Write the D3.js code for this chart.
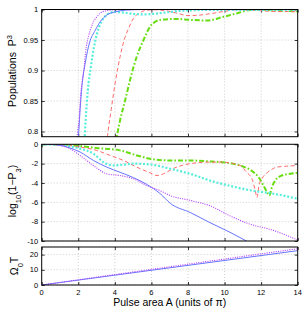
<!DOCTYPE html>
<html>
<head>
<meta charset="utf-8">
<script src="https://cdn.jsdelivr.net/npm/d3@7"></script>
<style>
  body { margin: 0; background: #fff; }
  svg { display: block; font-family: "Liberation Sans", Arial, sans-serif; }
</style>
</head>
<body>
<div id="container"></div>
<script>
// ---- data ----
// pulse area ticks
var xTicks = [0, 2, 4, 6, 8, 10, 12, 14];

// top panel: population P3
var topBlueA = [1.95, 2.01, 2.1, 2.2, 2.38, 2.61, 2.93, 3.2, 3.56, 4.0, 4.6, 5.5, 7, 9, 11, 14];
var topBlueP = [0.78, 0.793, 0.836, 0.874, 0.912, 0.945, 0.966, 0.980, 0.991, 0.996, 0.999, 1, 1, 1, 1, 1];
var topMagA = [1.92, 1.96, 2.05, 2.12, 2.21, 2.29, 2.43, 2.56, 2.69, 2.83, 3.02, 3.2, 3.47, 4, 5, 7, 10, 14];
var topMagP = [0.78, 0.798, 0.819, 0.855, 0.882, 0.898, 0.937, 0.956, 0.969, 0.980, 0.988, 0.994, 0.9975, 0.9995, 1, 1, 1, 1];
var topCyanA = [2.33, 2.40, 2.52, 2.69, 2.85, 3.02, 3.20, 3.4, 3.7, 4.0, 4.5, 5.0, 5.5, 6.0, 6.5, 7.0, 7.7, 8.5, 10, 12, 14];
var topCyanP = [0.78, 0.817, 0.867, 0.9065, 0.937, 0.960, 0.976, 0.986, 0.994, 0.996, 0.995, 0.993, 0.992, 0.9925, 0.994, 0.996, 0.998, 0.999, 0.9995, 0.9995, 0.9995];
var topRedA = [3.55, 3.6, 3.8, 4.02, 4.29, 4.51, 4.75, 5.02, 5.39, 5.75, 6.2, 6.8, 7.4, 8.0, 8.5, 9.2, 10, 10.6, 11.5, 12.5, 13.3, 14];
var topRedP = [0.78, 0.793, 0.836, 0.88, 0.923, 0.950, 0.969, 0.9856, 0.995, 0.999, 0.9995, 0.998, 0.994, 0.990, 0.9905, 0.993, 0.997, 0.9995, 0.999, 0.997, 0.9965, 0.9965];
var topGreenA = [4.05, 4.12, 4.29, 4.57, 4.88, 5.2, 5.57, 5.93, 6.48, 7.39, 8.12, 9.03, 9.94, 10.7, 11.4, 12, 13, 14];
var topGreenP = [0.78, 0.793, 0.819, 0.852, 0.890, 0.923, 0.950, 0.972, 0.983, 0.9845, 0.983, 0.982, 0.988, 0.994, 0.999, 0.9995, 0.998, 0.997];
var topTicks = [0.8, 0.85, 0.9, 0.95, 1];
var topTickLabels = ["0.8", "0.85", "0.9", "0.95", "1"];

// middle panel: log10(1 - P3)
var midBlueA = [0, 0.5, 1.0, 1.5, 2.1, 2.83, 3.56, 4.29, 5.02, 5.75, 6.48, 7.03, 8.12, 9.2, 10.3, 11.2, 11.5];
var midBlueL = [0, -0.01, -0.1, -0.35, -0.8, -1.67, -2.36, -2.9, -3.45, -4.15, -5.1, -6.1, -7.05, -8.1, -9.1, -10, -10.3];
var midMagA = [0, 0.5, 1.0, 1.5, 2.1, 2.83, 3.56, 4.29, 5.02, 5.75, 6.48, 7.03, 8.12, 9.2, 10.3, 11.4, 12.5, 14];
var midMagL = [0, -0.01, -0.12, -0.4, -1.15, -2.2, -3.05, -3.23, -3.57, -4.27, -4.8, -5.3, -5.8, -6.35, -7.4, -8.26, -8.8, -9.9];
var midCyanA = [0, 0.5, 1.0, 1.5, 2.1, 2.83, 3.38, 3.92, 4.47, 5.02, 5.75, 6.48, 7.03, 8.12, 9.2, 10.3, 11.4, 12.5, 14];
var midCyanL = [0, -0.01, -0.05, -0.2, -0.45, -0.97, -1.84, -2.19, -2.1, -2.0, -2.05, -2.26, -2.53, -3.05, -3.75, -4.3, -4.75, -5.05, -5.63];
var midRedA = [0, 1, 2.1, 3.0, 3.74, 4.47, 5.2, 5.93, 6.3, 6.66, 7.2, 8.12, 9.2, 9.76, 10.85, 11.2, 11.5, 11.68, 11.77, 11.9, 12.04, 12.5, 12.86, 13.4, 14];
var midRedL = [0, -0.05, -0.28, -0.63, -1.15, -1.67, -2.36, -2.95, -3.23, -3.05, -2.5, -2.0, -1.84, -1.84, -2.19, -2.88, -3.57, -4.8, -5.5, -4.1, -3.57, -2.7, -2.36, -2.26, -2.2];
var midGreenA = [0, 1, 2, 3, 4.29, 5.2, 5.93, 7.03, 8.12, 9.2, 9.76, 10.85, 11.58, 11.86, 12.13, 12.37, 12.45, 12.59, 12.77, 13.13, 13.59, 14];
var midGreenL = [0, -0.02, -0.15, -0.38, -0.63, -1.15, -1.49, -1.67, -1.67, -1.77, -1.84, -2.2, -2.88, -3.4, -4.27, -5.1, -5.3, -4.44, -3.75, -3.23, -3.05, -2.95];
var midTicks = [0, -2, -4, -6, -8, -10];

// bottom panel: Omega0 T
var botA = [0, 7, 14];
var botBlue = [0, 11.3, 22.6];
var botMag = [0, 12, 23.9];
var botTicks = [0, 10, 20];

// ---- layout ----
var W = 306, H = 312;
var svg = d3.select('#container')
    .append('svg')
    .attr('width', W)
    .attr('height', H);

var x = d3.scaleLinear().domain([0, 14]).range([41.7, 297.7]);

var panels = [
    { id: 'top', y0: 9.5, y1: 136.7, domain: [0.7915, 1], ticks: topTicks, labels: topTickLabels },
    { id: 'mid', y0: 144.3, y1: 241, domain: [-10, 0], ticks: midTicks, labels: midTicks.map(String) },
    { id: 'bot', y0: 247, y1: 285, domain: [0, 25], ticks: botTicks, labels: botTicks.map(String) }
];

var styles = {
    blue:  { color: '#6674ff', width: 1, dash: null, cap: 'butt' },
    mag:   { color: '#b64cff', width: 1.3, dash: '0,2.3', cap: 'round' },
    cyan:  { color: '#55eedd', width: 2.2, dash: '2,1.8', cap: 'butt' },
    red:   { color: '#ff6b6b', width: 1, dash: '4,2.6', cap: 'butt' },
    green: { color: '#66dd11', width: 2, dash: '5,2,1.6,2', cap: 'butt' }
};

panels.forEach(function (p) {
    p.y = d3.scaleLinear().domain(p.domain).range([p.y1, p.y0]);
    var g = svg.append('g').attr('class', p.id);
    p.g = g;

    svg.append('clipPath').attr('id', 'clip-' + p.id)
        .append('rect')
        .attr('x', x.range()[0]).attr('y', p.y0)
        .attr('width', x.range()[1] - x.range()[0])
        .attr('height', p.y1 - p.y0);

    // grid
    g.selectAll('.vgrid').data(xTicks.slice(1, -1)).enter()
        .append('line')
        .attr('x1', function (d) { return x(d); })
        .attr('x2', function (d) { return x(d); })
        .attr('y1', p.y0).attr('y2', p.y1)
        .attr('stroke', '#b8b8b8').attr('stroke-width', 0.7)
        .attr('stroke-dasharray', '1,2');
    g.selectAll('.hgrid').data(p.ticks).enter()
        .append('line')
        .attr('x1', x.range()[0]).attr('x2', x.range()[1])
        .attr('y1', function (d) { return p.y(d); })
        .attr('y2', function (d) { return p.y(d); })
        .attr('stroke', '#b8b8b8').attr('stroke-width', 0.7)
        .attr('stroke-dasharray', '1,2');

    // ticks inside on all four sides
    var yl = g.append('g').attr('transform', 'translate(' + x.range()[0] + ',0)')
        .call(d3.axisRight(p.y).tickValues(p.ticks).tickSize(3).tickFormat(''));
    yl.select('.domain').remove();
    var yr = g.append('g').attr('transform', 'translate(' + x.range()[1] + ',0)')
        .call(d3.axisLeft(p.y).tickValues(p.ticks).tickSize(3).tickFormat(''));
    yr.select('.domain').remove();
    var xb = g.append('g').attr('transform', 'translate(0,' + p.y1 + ')')
        .call(d3.axisTop(x).tickValues(xTicks).tickSize(3).tickFormat(''));
    xb.select('.domain').remove();
    var xt = g.append('g').attr('transform', 'translate(0,' + p.y0 + ')')
        .call(d3.axisBottom(x).tickValues(xTicks).tickSize(3).tickFormat(''));
    xt.select('.domain').remove();
    g.selectAll('.tick line').attr('stroke', '#000').attr('stroke-width', 0.8);

    // y tick labels
    svg.append('g').selectAll('text').data(p.ticks).enter()
        .append('text')
        .attr('x', x.range()[0] - 3.5)
        .attr('y', function (d) { return p.y(d); })
        .attr('dy', '0.35em')
        .attr('text-anchor', 'end')
        .attr('fill', '#000')
        .style('font-size', '7.5px')
        .text(function (d, i) { return p.labels[i]; });
});

function drawSeries(p, xs, ys, st) {
    var pts = xs.map(function (d, i) { return [d, ys[i]]; });
    var line = d3.line()
        .x(function (d) { return x(d[0]); })
        .y(function (d) { return p.y(d[1]); })
        .curve(d3.curveMonotoneX);
    p.g.append('path')
        .attr('d', line(pts))
        .attr('clip-path', 'url(#clip-' + p.id + ')')
        .attr('fill', 'none')
        .attr('stroke', st.color)
        .attr('stroke-width', st.width)
        .attr('stroke-linecap', st.cap)
        .attr('stroke-dasharray', st.dash);
}

var pTop = panels[0], pMid = panels[1], pBot = panels[2];

drawSeries(pTop, topGreenA, topGreenP, styles.green);
drawSeries(pTop, topRedA, topRedP, styles.red);
drawSeries(pTop, topCyanA, topCyanP, styles.cyan);
drawSeries(pTop, topBlueA, topBlueP, styles.blue);
drawSeries(pTop, topMagA, topMagP, styles.mag);

drawSeries(pMid, midGreenA, midGreenL, styles.green);
drawSeries(pMid, midRedA, midRedL, styles.red);
drawSeries(pMid, midCyanA, midCyanL, styles.cyan);
drawSeries(pMid, midBlueA, midBlueL, styles.blue);
drawSeries(pMid, midMagA, midMagL, styles.mag);

drawSeries(pBot, botA, botBlue, styles.blue);
drawSeries(pBot, botA, botMag, styles.mag);

// boxes
panels.forEach(function (p) {
    svg.append('rect')
        .attr('x', x.range()[0]).attr('y', p.y0)
        .attr('width', x.range()[1] - x.range()[0])
        .attr('height', p.y1 - p.y0)
        .attr('fill', 'none')
        .attr('stroke', '#000')
        .attr('stroke-width', 1);
});

// x tick labels on the bottom panel only
svg.append('g').selectAll('text').data(xTicks).enter()
    .append('text')
    .attr('x', function (d) { return x(d); })
    .attr('y', 294.5)
    .attr('text-anchor', 'middle')
    .style('font-size', '7.5px')
    .text(function (d) { return d; });

// axis titles
svg.append('text')
    .attr('x', (x.range()[0] + x.range()[1]) / 2)
    .attr('y', 306)
    .attr('text-anchor', 'middle')
    .style('font-size', '10.5px')
    .text('Pulse area A (units of π)');

function yTitle(cx, cy, parts) {
    var t = svg.append('text')
        .attr('transform', 'translate(' + cx + ',' + cy + ') rotate(-90)')
        .attr('text-anchor', 'middle')
        .style('font-size', '10.5px');
    parts.forEach(function (s) {
        var ts = t.append('tspan').text(s[0]);
        if (s[1]) ts.attr('baseline-shift', s[1]).style('font-size', '7.5px');
    });
}
yTitle(16, 71, [['Populations\u00a0\u00a0P'], ['3', 'super']]);
yTitle(16, 191, [['log'], ['10', 'sub'], ['(1\u2212P'], ['3', 'sub'], [')']]);
yTitle(18, 266, [['\u03a9'], ['0', 'sub'], ['T']]);
</script>
</body>
</html>
